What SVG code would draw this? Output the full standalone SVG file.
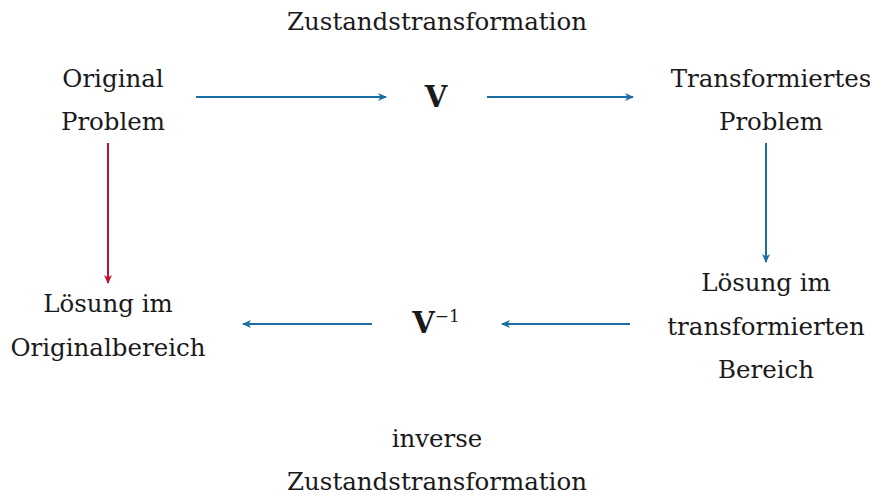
<svg xmlns="http://www.w3.org/2000/svg" width="870" height="496" viewBox="0 0 870 496">
<style>
text{font-family:"DejaVu Serif","Liberation Serif",serif;font-size:24.5px;fill:#1a1a1a;text-anchor:middle}
.b{font-weight:bold;font-size:29px}
.sup{font-size:17px}
.blue{stroke:#1b6ea3;stroke-width:2;fill:none}
.red{stroke:#c8102e;stroke-width:2;fill:none}
</style>
<defs>
<marker id="ab" markerWidth="10" markerHeight="8" refX="8" refY="4" orient="auto" markerUnits="userSpaceOnUse"><path d="M0,0 L9,4 L0,8 L2.5,4 Z" fill="#1b6ea3"/></marker>
<marker id="ar" markerWidth="10" markerHeight="8" refX="8" refY="4" orient="auto" markerUnits="userSpaceOnUse"><path d="M0,0 L9,4 L0,8 L2.5,4 Z" fill="#c8102e"/></marker>
</defs>
<g id="connectors">
<line class="blue" x1="196" y1="97" x2="386" y2="97" marker-end="url(#ab)"/>
<line class="blue" x1="487" y1="97" x2="633" y2="97" marker-end="url(#ab)"/>
<line class="red" x1="108" y1="143" x2="108" y2="283" marker-end="url(#ar)"/>
<line class="blue" x1="766" y1="143" x2="766" y2="262" marker-end="url(#ab)"/>
<line class="blue" x1="372" y1="324" x2="243" y2="324" marker-end="url(#ab)"/>
<line class="blue" x1="630" y1="324" x2="502" y2="324" marker-end="url(#ab)"/>
</g>
<g id="label-top"><text x="437" y="30">Zustandstransformation</text></g>
<g id="original"><text x="113" y="87">Original</text><text x="113" y="130">Problem</text></g>
<g id="V"><text class="b" x="436" y="107">V</text></g>
<g id="transformed"><text x="771" y="87">Transformiertes</text><text x="771" y="130">Problem</text></g>
<g id="solution-original"><text x="108" y="312">Lösung im</text><text x="108" y="356">Originalbereich</text></g>
<g id="Vinv"><text x="436" y="333"><tspan class="b">V</tspan><tspan class="sup" dy="-11">−1</tspan></text></g>
<g id="solution-transformed"><text x="766" y="291">Lösung im</text><text x="766" y="335">transformierten</text><text x="766" y="378">Bereich</text></g>
<g id="label-bottom"><text x="437" y="447">inverse</text><text x="437" y="490">Zustandstransformation</text></g>
</svg>
